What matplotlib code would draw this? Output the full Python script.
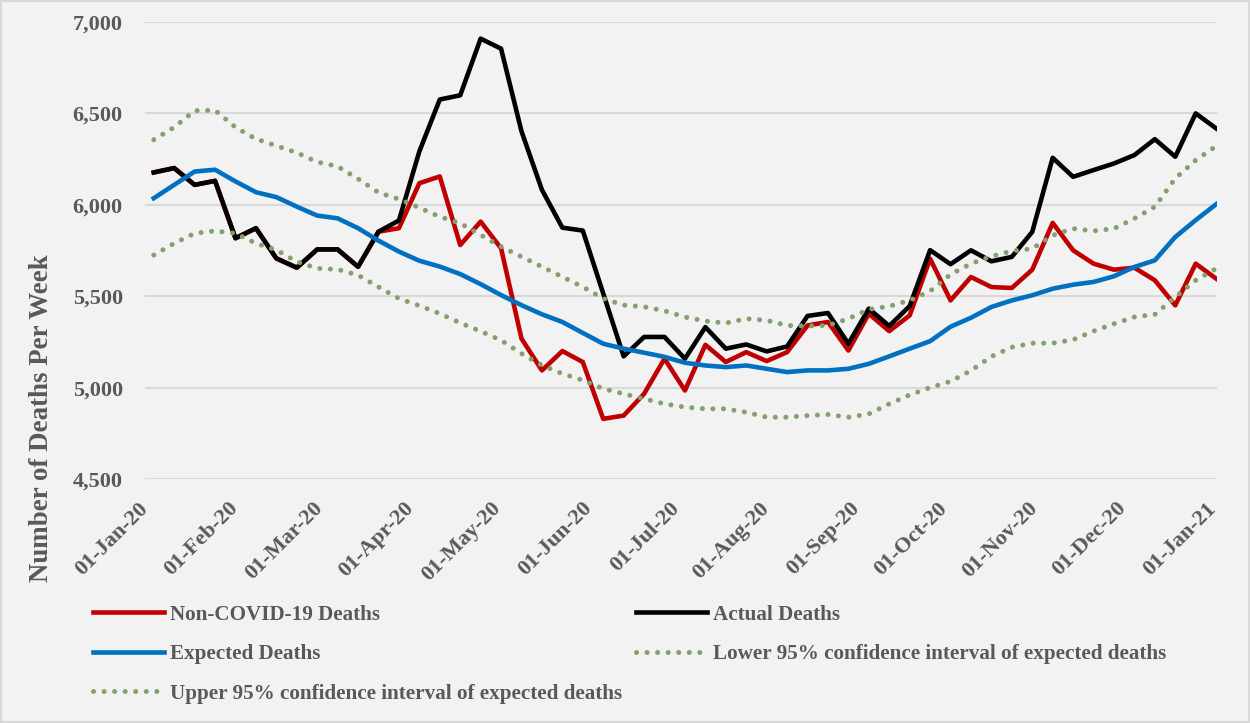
import datetime as dt
import matplotlib.pyplot as plt
import matplotlib.dates as mdates
import matplotlib.transforms as mtransforms
from matplotlib.ticker import FuncFormatter
from matplotlib.patches import Rectangle

# weekly deaths, weeks ending 04-Jan-20 ... 02-Jan-21
semanas = [dt.date(2020, 1, 4) + dt.timedelta(days=7 * i) for i in range(53)]

actual = [6177, 6201, 6109, 6131, 5817, 5872, 5707, 5656, 5756, 5756, 5661, 5853, 5914,
          6292, 6576, 6599, 6909, 6854, 6402, 6082, 5875, 5859, 5515, 5171, 5277, 5277,
          5158, 5331, 5213, 5236, 5198, 5225, 5392, 5408, 5240, 5432, 5337, 5446,
          5752, 5675, 5751, 5691, 5715, 5852, 6257, 6153, 6190, 6226, 6272, 6359, 6263, 6500, 6418]

non_covid = [6177, 6201, 6109, 6131, 5817, 5872, 5707, 5656, 5756, 5756, 5661, 5853,
             5872, 6118, 6155, 5780, 5908, 5762, 5268, 5094, 5200, 5140, 4829, 4847, 4966, 5158,
             4984, 5234, 5140, 5194, 5145, 5194, 5340, 5359, 5203, 5404, 5309, 5395,
             5705, 5477, 5605, 5550, 5545, 5645, 5901, 5751, 5678, 5645, 5656, 5587, 5450, 5678, 5596]

expected = [6036, 6109, 6182, 6192, 6128, 6069, 6042, 5990, 5941, 5926, 5872, 5804, 5744,
            5694, 5662, 5621, 5566, 5506, 5451, 5401, 5359, 5299, 5240, 5213, 5191, 5168,
            5136, 5121, 5112, 5121, 5103, 5085, 5094, 5094, 5103, 5130, 5171, 5213,
            5254, 5333, 5382, 5441, 5477, 5505, 5541, 5563, 5578, 5609, 5660, 5696, 5824, 5916, 6003]

upper = [6356, 6424, 6515, 6517, 6424, 6360, 6323, 6285, 6234, 6210, 6142, 6067, 6031,
         5984, 5935, 5899, 5835, 5771, 5716, 5661, 5606, 5551, 5487, 5451, 5442, 5420,
         5386, 5364, 5353, 5377, 5368, 5340, 5337, 5340, 5377, 5428, 5445, 5477,
         5528, 5619, 5678, 5718, 5747, 5760, 5833, 5870, 5857, 5870, 5925, 5989, 6144, 6244, 6321]

lower = [5725, 5789, 5844, 5857, 5844, 5789, 5753, 5689, 5652, 5647, 5615, 5551, 5487,
         5448, 5405, 5354, 5308, 5259, 5186, 5122, 5076, 5040, 4994, 4966, 4939, 4911,
         4893, 4884, 4884, 4865, 4838, 4838, 4847, 4853, 4838, 4856, 4911, 4960,
         5000, 5034, 5093, 5170, 5221, 5243, 5243, 5262, 5309, 5349, 5386, 5400, 5495, 5587, 5651]

cinza = "#595959"
verde = "#84A06E"
plt.rcParams["font.family"] = ["Liberation Serif", "DejaVu Serif"]
plt.rcParams["font.weight"] = "bold"

fig = plt.figure(figsize=(12.5, 7.23), dpi=100, facecolor="#F2F2F2")
fig.patches.append(Rectangle((0.001, 0.001), 0.998, 0.997, transform=fig.transFigure,
                             fill=False, edgecolor="#D9D9D9", linewidth=1.5))
ax = fig.add_axes([145 / 1250, 1 - 479 / 723, 1072 / 1250, 457 / 723])
ax.set_facecolor("#F2F2F2")

lw = 3.3
dots = (0, (0.01, 2.1))
l1, = ax.plot(semanas, non_covid, color="#C00000", lw=lw, solid_joinstyle="round", label="Non-COVID-19 Deaths")
l2, = ax.plot(semanas, actual, color="black", lw=lw, solid_joinstyle="round", label="Actual Deaths")
l3, = ax.plot(semanas, expected, color="#0070C0", lw=lw, solid_joinstyle="round", label="Expected Deaths")
l4, = ax.plot(semanas, lower, color=verde, lw=3.6, ls=dots, dash_capstyle="round",
              label="Lower 95% confidence interval of expected deaths")
l5, = ax.plot(semanas, upper, color=verde, lw=3.6, ls=dots, dash_capstyle="round",
              label="Upper 95% confidence interval of expected deaths")

ax.set_ylim(4500, 7000)
ax.set_yticks(range(4500, 7001, 500))
ax.yaxis.set_major_formatter(FuncFormatter(lambda v, p: f"{int(v):,}"))
ax.set_xlim(mdates.date2num(dt.date(2020, 1, 1)), mdates.date2num(dt.date(2021, 1, 2)) + 0.3)
ax.xaxis.set_major_locator(mdates.MonthLocator())
ax.xaxis.set_major_formatter(mdates.DateFormatter("%d-%b-%y"))
ax.grid(axis="y", color="#D9D9D9", linewidth=1.5)
ax.set_axisbelow(True)
for s in ax.spines.values():
    s.set_visible(False)
ax.tick_params(axis="y", length=0, pad=16, labelsize=16, labelcolor=cinza)
ax.tick_params(axis="x", length=0, pad=14, labelsize=16, labelcolor=cinza)
desloca = mtransforms.ScaledTranslation(7 / 100, 0, fig.dpi_scale_trans)
for t in ax.get_xticklabels():
    t.set_rotation(45)
    t.set_ha("right")
    t.set_transform(t.get_transform() + desloca)

ax.set_ylabel("Number of Deaths Per Week", fontsize=19.4, fontweight="bold", color=cinza)
ax.yaxis.set_label_coords((54 - 145) / 1072, (479 - 418) / 457)

# legenda em duas colunas (ordem por linha como no Excel)
leg_kw = dict(frameon=False, fontsize=15.2, handlelength=3.4, handletextpad=0.25,
              labelspacing=0.93, borderpad=0, labelcolor=cinza, loc="upper left")
fig.legend(handles=[l1, l3, l5], bbox_to_anchor=(82 / 1250, 1 - 594 / 723), **leg_kw)
fig.legend(handles=[l2, l4], bbox_to_anchor=(625 / 1250, 1 - 594 / 723), **leg_kw)

plt.savefig("out.png", dpi=100, facecolor=fig.get_facecolor())
